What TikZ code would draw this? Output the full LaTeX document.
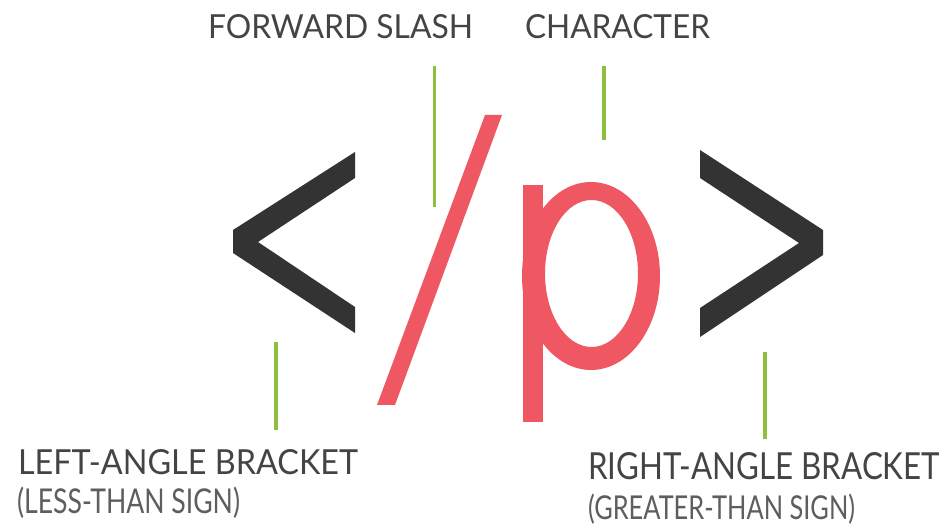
\documentclass[tikz,border=0pt]{standalone}
\usepackage{fontspec}
\setmainfont{Lato}
\usepackage{graphicx}
\definecolor{labelgray}{HTML}{444444}
\definecolor{subgray}{HTML}{5E5E5E}
\definecolor{bracketgray}{HTML}{333333}
\definecolor{tagred}{HTML}{EF5862}
\definecolor{leadgreen}{HTML}{8DC03F}
\begin{document}
\begin{tikzpicture}[x=1pt,y=-1pt,
  lbl/.style={anchor=base west, inner sep=0pt, outer sep=0pt, text=labelgray},
  sublbl/.style={lbl, text=subgray},
  leader/.style={draw=leadgreen, line width=3.2pt},
  bracket/.style={fill=bracketgray, draw=none},
  redglyph/.style={fill=tagred, draw=none}]
\useasboundingbox[fill=white] (0,0) rectangle (951,526);

% labels
\node[lbl] (fslash) at (208,39) {\resizebox{265pt}{24pt}{FORWARD SLASH}};
\node[lbl] (charlbl) at (525,39) {\resizebox{185pt}{24pt}{CHARACTER}};
\node[lbl] (leftlbl) at (18,475) {\resizebox{340pt}{25pt}{LEFT-ANGLE BRACKET}};
\node[sublbl] (leftsub) at (17,513) {\resizebox{223pt}{26.5pt}{(LESS-THAN SIGN)}};
\node[lbl] (rightlbl) at (588,480) {\resizebox{352pt}{27pt}{RIGHT-ANGLE BRACKET}};
\node[sublbl] (rightsub) at (588,519) {\resizebox{267pt}{25.5pt}{(GREATER-THAN SIGN)}};

% leader line end points
\coordinate (fsTop) at (434.5,66);
\coordinate (fsBot) at (434.5,207);
\coordinate (chTop) at (604,66);
\coordinate (chBot) at (604,140);
\coordinate (ltTop) at (276,342);
\coordinate (ltBot) at (276,430);
\coordinate (rtTop) at (765,352);
\coordinate (rtBot) at (765,439);

\draw[leader] (fsTop) -- (fsBot);
\draw[leader] (chTop) -- (chBot);
\draw[leader] (ltTop) -- (ltBot);
\draw[leader] (rtTop) -- (rtBot);

% left-angle bracket
\fill[bracket] (355,152) -- (233,230) -- (233,253) -- (355,333) -- (355,307)
  -- (258,242) -- (355,178) -- cycle;
% right-angle bracket
\fill[bracket] (700,150) -- (823,230) -- (823,255) -- (700,337) -- (700,308)
  -- (799,243) -- (700,178) -- cycle;

% forward slash
\fill[redglyph] (485,115) -- (502,115) -- (395,405) -- (377,405) -- cycle;

% p
\fill[redglyph] (523,185) rectangle (543,422);
\fill[redglyph, even odd rule] (591,276) ellipse [x radius=69, y radius=94]
  (591.5,273.5) ellipse [x radius=46.5, y radius=73.5];
\end{tikzpicture}
\end{document}
